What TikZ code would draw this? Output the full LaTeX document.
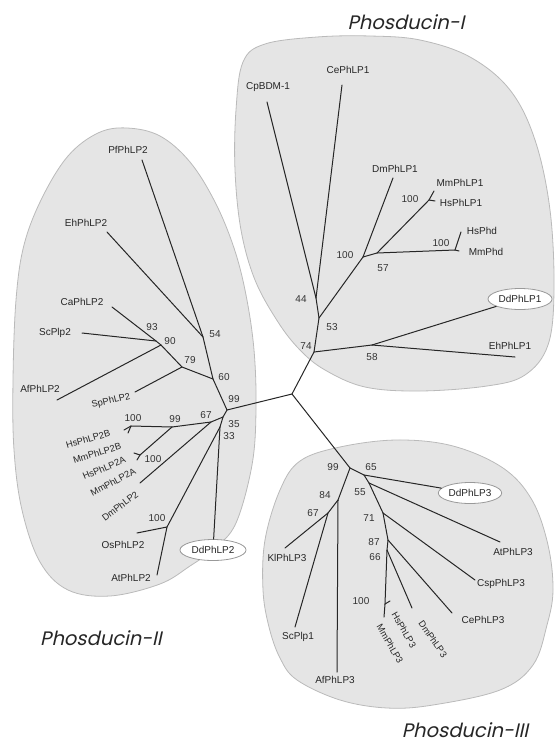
\documentclass[tikz,border=0pt]{standalone}
\usepackage{fontspec}
\setmainfont{Liberation Sans}
\newfontfamily\titlefont[FakeSlant=0.22]{Poppins}
\usetikzlibrary{shapes.geometric}
\tikzset{
  br/.style={draw=black!85, line width=1pt, line cap=round},
  lab/.style={font=\fontsize{10}{11}\selectfont, text=black!85, inner sep=0pt},
  rlab/.style={font=\fontsize{9.3}{10}\selectfont, text=black!85, inner sep=0pt},
  bs/.style={font=\fontsize{10}{11}\selectfont, text=black!80, inner sep=0pt},
  blob/.style={fill=black!10, draw=black!27, line width=0.8pt},
  ddbox/.style={ellipse, draw=black!40, fill=white, line width=0.8pt, minimum width=64pt, minimum height=21pt, inner sep=1pt, font=\fontsize{10}{11}\selectfont, text=black!85},
  ttl/.style={font=\titlefont\fontsize{19.5}{22}\selectfont, text=black!85, inner sep=0pt}
}
\begin{document}
\begin{tikzpicture}[x=1pt,y=-1pt]
\useasboundingbox (0,0) rectangle (559,744);
% ---------- clade regions ----------
\path[blob] plot[smooth cycle, tension=0.6] coordinates {(236,110) (243,62) (265,44) (317,37) (370,36) (420,40) (470,57) (510,90) (535,140) (550,210) (554,290) (548,345) (525,375) (487,386) (420,391) (365,387) (325,370) (300,350) (278,322) (255,280) (241,230) (235,170)};
\path[blob] plot[smooth cycle, tension=0.6] coordinates {(127,128) (160,136) (190,162) (215,202) (234,248) (246,295) (254,350) (256,410) (252,465) (236,523) (215,548) (190,566) (160,584) (110,596) (68,590) (40,562) (22,510) (14,450) (13,380) (16,300) (24,245) (42,198) (68,156) (98,133)};
\path[blob] plot[smooth cycle, tension=0.6] coordinates {(397,440) (453,446) (503,468) (532,500) (548,545) (553,590) (547,625) (533,665) (500,690) (433,705) (387,708) (340,700) (297,680) (280,658) (269,627) (263,590) (265,540) (280,490) (300,461) (340,447)};
% ---------- titles ----------
\node[ttl] (t1) at (406,22) {Phosducin-I};
\node[ttl] (t2) at (101,638) {Phosducin-II};
\node[ttl] (t3) at (465,730) {Phosducin-III};
% ---------- tree coordinates ----------
\coordinate (R) at (292,394);
% Phosducin-I
\coordinate (n74) at (314,352);
\coordinate (n58) at (372,345);
\coordinate (tEh1) at (515,357);
\coordinate (n53) at (319,318);
\coordinate (n44) at (316,298);
\coordinate (tCp) at (267,102);
\coordinate (tCe) at (342,85);
\coordinate (n100a) at (363,257);
\coordinate (tDm1) at (393,178);
\coordinate (n57) at (377,253);
\coordinate (nPhd) at (455,250);
\coordinate (tHsPhd) at (461,232);
\coordinate (tMmPhd) at (459,251);
\coordinate (nPhLP1) at (429,200);
\coordinate (tMm1) at (434,191);
\coordinate (tHs1) at (435,201);
% Phosducin-II
\coordinate (n99) at (227,410);
\coordinate (n60) at (213,379);
\coordinate (n54) at (203,337);
\coordinate (tPf) at (142,160);
\coordinate (tEh2) at (107,232);
\coordinate (n79) at (182,367);
\coordinate (tSp) at (135,392);
\coordinate (n90) at (161,345);
\coordinate (n93) at (156,341);
\coordinate (tAf2) at (57,400);
\coordinate (tCa2) at (112,307);
\coordinate (tSc2) at (82,333);
\coordinate (n35) at (223,417);
\coordinate (n33) at (220,427);
\coordinate (n67) at (211,422);
\coordinate (n99b) at (172,427);
\coordinate (n100B) at (131,426);
\coordinate (tHs2B) at (124,430);
\coordinate (tMm2B) at (128,433);
\coordinate (n100A) at (140,455);
\coordinate (tHs2A) at (134,453);
\coordinate (tMm2A) at (137,460);
\coordinate (tDm2) at (140,483);
\coordinate (n100os) at (167,527);
\coordinate (tOs) at (137,533);
\coordinate (tAt2) at (157,575);
% Phosducin-III
\coordinate (n99c) at (350,468);
\coordinate (n65) at (364,475);
\coordinate (n55) at (369,483);
\coordinate (tAt3) at (500,542);
\coordinate (n71) at (383,513);
\coordinate (tCsp) at (475,580);
\coordinate (n87) at (388,540);
\coordinate (tCe3) at (452,613);
\coordinate (n66) at (387,550);
\coordinate (tDm3) at (412,608);
\coordinate (n100c) at (385,604);
\coordinate (tHs3) at (390,601);
\coordinate (tMm3) at (384,617);
\coordinate (n84) at (338,500);
\coordinate (tAf3) at (337,672);
\coordinate (n67c) at (328,513);
\coordinate (tKl) at (285,548);
\coordinate (tSc1) at (295,627);
% ---------- boxed leaves ----------
\node[ddbox] (dd1) at (520,299) {DdPhLP1};
\node[ddbox, minimum width=66pt] (dd2) at (213,550) {DdPhLP2};
\node[ddbox, minimum width=60pt] (dd3) at (470,493) {DdPhLP3};
% ---------- branches ----------
% Phosducin-I
\draw[br] (R) -- (n74);
\draw[br] (n74) -- (n58);
\draw[br] (n58) -- (dd1);
\draw[br] (n58) -- (tEh1);
\draw[br] (n74) -- (n53);
\draw[br] (n53) -- (n44);
\draw[br] (n44) -- (tCp);
\draw[br] (n44) -- (tCe);
\draw[br] (n53) -- (n100a);
\draw[br] (n100a) -- (tDm1);
\draw[br] (n100a) -- (n57);
\draw[br] (n57) -- (nPhd);
\draw[br] (nPhd) -- (tHsPhd);
\draw[br] (nPhd) -- (tMmPhd);
\draw[br] (n57) -- (nPhLP1);
\draw[br] (nPhLP1) -- (tMm1);
\draw[br] (nPhLP1) -- (tHs1);
% Phosducin-II
\draw[br] (R) -- (n99);
\draw[br] (n99) -- (n60);
\draw[br] (n60) -- (n54);
\draw[br] (n54) -- (tPf);
\draw[br] (n54) -- (tEh2);
\draw[br] (n60) -- (n79);
\draw[br] (n79) -- (tSp);
\draw[br] (n79) -- (n90);
\draw[br] (n90) -- (tAf2);
\draw[br] (n90) -- (n93);
\draw[br] (n93) -- (tCa2);
\draw[br] (n93) -- (tSc2);
\draw[br] (n99) -- (n35);
\draw[br] (n35) -- (n67);
\draw[br] (n35) -- (n33);
\draw[br] (n67) -- (tDm2);
\draw[br] (n67) -- (n99b);
\draw[br] (n99b) -- (n100B);
\draw[br] (n100B) -- (tHs2B);
\draw[br] (n100B) -- (tMm2B);
\draw[br] (n99b) -- (n100A);
\draw[br] (n100A) -- (tHs2A);
\draw[br] (n100A) -- (tMm2A);
\draw[br] (n33) -- (n100os);
\draw[br] (n100os) -- (tOs);
\draw[br] (n100os) -- (tAt2);
\draw[br] (n33) -- (dd2);
% Phosducin-III
\draw[br] (R) -- (n99c);
\draw[br] (n99c) -- (n65);
\draw[br] (n65) -- (dd3);
\draw[br] (n65) -- (n55);
\draw[br] (n55) -- (tAt3);
\draw[br] (n55) -- (n71);
\draw[br] (n71) -- (tCsp);
\draw[br] (n71) -- (n87);
\draw[br] (n87) -- (tCe3);
\draw[br] (n87) -- (n66);
\draw[br] (n66) -- (tDm3);
\draw[br] (n66) -- (n100c);
\draw[br] (n100c) -- (tHs3);
\draw[br] (n100c) -- (tMm3);
\draw[br] (n99c) -- (n84);
\draw[br] (n84) -- (tAf3);
\draw[br] (n84) -- (n67c);
\draw[br] (n67c) -- (tKl);
\draw[br] (n67c) -- (tSc1);
% ---------- leaf labels ----------
\node[lab] (lCp) at (268,87) {CpBDM-1};
\node[lab] (lCe) at (348,70) {CePhLP1};
\node[lab] (lDm1) at (395,169) {DmPhLP1};
\node[lab] (lMm1) at (460,183) {MmPhLP1};
\node[lab] (lHs1) at (461,203) {HsPhLP1};
\node[lab] (lHsPhd) at (482,231) {HsPhd};
\node[lab] (lMmPhd) at (486,252) {MmPhd};
\node[lab] (lEh1) at (510,346) {EhPhLP1};
\node[lab] (lPf) at (128,150) {PfPhLP2};
\node[lab] (lEh2) at (86,223) {EhPhLP2};
\node[lab] (lCa2) at (82,302) {CaPhLP2};
\node[lab] (lSc2) at (55,333) {ScPlp2};
\node[lab] (lAf2) at (40,389) {AfPhLP2};
\node[rlab, rotate=13] (lSp) at (111,401) {SpPhLP2};
\node[rlab, rotate=16] (lHs2B) at (88,439) {HsPhLP2B};
\node[rlab, rotate=17] (lMm2B) at (97,453) {MmPhLP2B};
\node[rlab, rotate=23] (lHs2A) at (104,468) {HsPhLP2A};
\node[rlab, rotate=28] (lMm2A) at (113,482) {MmPhLP2A};
\node[rlab, rotate=37] (lDm2) at (120,506) {DmPhLP2};
\node[lab] (lOs) at (123,545) {OsPhLP2};
\node[lab] (lAt2) at (131,578) {AtPhLP2};
\node[lab] (lAt3) at (513,552) {AtPhLP3};
\node[lab] (lCsp) at (501,584) {CspPhLP3};
\node[lab] (lCe3) at (483,620) {CePhLP3};
\node[rlab, rotate=-55] (lDm3) at (433,639) {DmPhLP3};
\node[rlab, rotate=-60] (lHs3) at (404,630) {HsPhLP3};
\node[rlab, rotate=-60] (lMm3) at (390,644) {MmPhLP3};
\node[lab] (lKl) at (287,558) {KlPhLP3};
\node[lab] (lSc1) at (298,637) {ScPlp1};
\node[lab] (lAf3) at (335,680) {AfPhLP3};
% ---------- bootstrap values ----------
\node[bs] (b74) at (306,346) {74};
\node[bs] (b58) at (372,357) {58};
\node[bs] (b44) at (301,299) {44};
\node[bs] (b53) at (332,327) {53};
\node[bs] (b100a) at (345,255) {100};
\node[bs] (b57) at (383,268) {57};
\node[bs] (b100p) at (410,199) {100};
\node[bs] (b100d) at (441,243) {100};
\node[bs] (b99) at (234,399) {99};
\node[bs] (b60) at (224,377) {60};
\node[bs] (b54) at (215,334) {54};
\node[bs] (b79) at (190,360) {79};
\node[bs] (b90) at (170,341) {90};
\node[bs] (b93) at (152,327) {93};
\node[bs] (b35) at (234,424) {35};
\node[bs] (b33) at (229,436) {33};
\node[bs] (b67) at (206,415) {67};
\node[bs] (b99b) at (175,419) {99};
\node[bs] (b100B) at (133,418) {100};
\node[bs] (b100A) at (153,459) {100};
\node[bs] (b100os) at (157,518) {100};
\node[bs] (b99c) at (333,467) {99};
\node[bs] (b65) at (371,467) {65};
\node[bs] (b55) at (360,492) {55};
\node[bs] (b71) at (369,518) {71};
\node[bs] (b87) at (374,542) {87};
\node[bs] (b66) at (375,557) {66};
\node[bs] (b100c) at (361,601) {100};
\node[bs] (b84) at (325,495) {84};
\node[bs] (b67c) at (313,513) {67};
\end{tikzpicture}
\end{document}
